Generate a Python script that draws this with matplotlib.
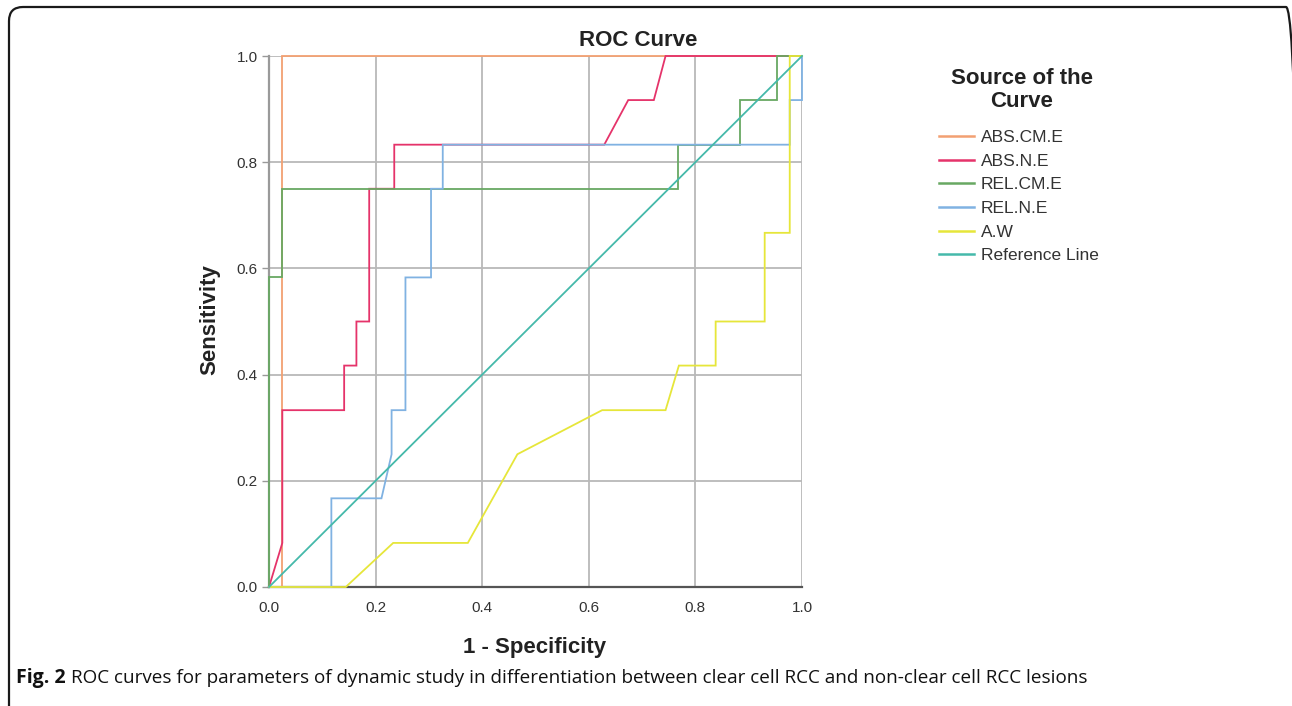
import matplotlib
matplotlib.use("Agg")
import matplotlib.pyplot as plt
from matplotlib.patches import FancyBboxPatch
from matplotlib.transforms import IdentityTransform

# ---------------- data ----------------
abs_cm_e_x = [0, 0.025, 0.025, 1.0]
abs_cm_e_y = [0, 0, 1.0, 1.0]

abs_n_e_x = [0, 0.025, 0.025, 0.141, 0.141, 0.164, 0.164, 0.188, 0.188, 0.235, 0.235,
             0.629, 0.674, 0.722, 0.744, 1.0]
abs_n_e_y = [0, 0.083, 0.333, 0.333, 0.417, 0.417, 0.5, 0.5, 0.75, 0.75, 0.833,
             0.833, 0.917, 0.917, 1.0, 1.0]

rel_cm_e_x = [0, 0, 0.025, 0.025, 0.767, 0.767, 0.884, 0.884, 0.954, 0.954, 1.0]
rel_cm_e_y = [0, 0.583, 0.583, 0.75, 0.75, 0.833, 0.833, 0.917, 0.917, 1.0, 1.0]

rel_n_e_x = [0, 0.117, 0.117, 0.211, 0.230, 0.230, 0.256, 0.256, 0.304, 0.304, 0.326,
             0.326, 0.977, 0.977, 1.0, 1.0]
rel_n_e_y = [0, 0, 0.167, 0.167, 0.25, 0.333, 0.333, 0.583, 0.583, 0.75, 0.75,
             0.833, 0.833, 0.917, 0.917, 1.0]

aw_x = [0, 0.144, 0.233, 0.373, 0.466, 0.625, 0.744, 0.769, 0.838, 0.838, 0.930,
        0.930, 0.977, 0.977, 1.0]
aw_y = [0, 0, 0.083, 0.083, 0.25, 0.333, 0.333, 0.417, 0.417, 0.5, 0.5,
        0.667, 0.667, 1.0, 1.0]

ref_x = [0, 1.0]
ref_y = [0, 1.0]

series_names = ["ABS.CM.E", "ABS.N.E", "REL.CM.E", "REL.N.E", "A.W", "Reference Line"]
series_colors = ["#f2a072", "#e5336a", "#68a862", "#80b2e2", "#e6e63a", "#45b9aa"]
ticks = [0.0, 0.2, 0.4, 0.6, 0.8, 1.0]
tick_labels = ["0.0", "0.2", "0.4", "0.6", "0.8", "1.0"]

# ---------------- figure ----------------
W, H = 1292, 706
fig = plt.figure(figsize=(W / 100, H / 100), dpi=100)
fig.patch.set_facecolor("white")
plt.rcParams["font.family"] = ["Liberation Sans", "DejaVu Sans"]

ax = fig.add_axes([269 / W, (H - 587) / H, (802 - 269) / W, (587 - 56) / H])
ax.set_xlim(0, 1)
ax.set_ylim(0, 1)

xs = [abs_cm_e_x, abs_n_e_x, rel_cm_e_x, rel_n_e_x, aw_x, ref_x]
ys = [abs_cm_e_y, abs_n_e_y, rel_cm_e_y, rel_n_e_y, aw_y, ref_y]
handles = []
for x, y, name, c in zip(xs, ys, series_names, series_colors):
    h, = ax.plot(x, y, color=c, lw=1.3, label=name, clip_on=False, zorder=3,
                 solid_joinstyle="miter")
    handles.append(h)

ax.set_xticks(ticks)
ax.set_yticks(ticks)
ax.set_xticklabels(tick_labels, fontsize=11, color="#333333")
ax.set_yticklabels(tick_labels, fontsize=11, color="#333333")
ax.tick_params(axis="y", length=5, width=1, color="#999999", pad=3)
ax.tick_params(axis="x", length=0, pad=10)
ax.grid(True, color="#b9b9b9", lw=1.3, zorder=1)
ax.set_axisbelow(True)
for s in ["top", "right"]:
    ax.spines[s].set_visible(False)
ax.spines["left"].set_color("#9a9a9a")
ax.spines["left"].set_linewidth(1.6)
ax.spines["bottom"].set_color("#555555")
ax.spines["bottom"].set_linewidth(1.6)

# titles and labels
fig.text(638 / W, 1 - 41 / H, "ROC Curve", ha="center", va="center",
         fontsize=16, fontweight="bold", color="#222222")
fig.text(535 / W, 1 - 648 / H, "1 - Specificity", ha="center", va="center",
         fontsize=16, fontweight="bold", color="#222222")
fig.text(210 / W, 1 - 320 / H, "Sensitivity", ha="center", va="center",
         rotation=90, fontsize=16, fontweight="bold", color="#222222")

# legend
fig.text(1022 / W, 1 - 90 / H, "Source of the\nCurve", ha="center", va="center",
         multialignment="center", linespacing=1.15,
         fontsize=16, fontweight="bold", color="#222222")
leg = fig.legend(handles=handles, labels=series_names, loc="upper left",
                 bbox_to_anchor=(939 / W, 1 - 130 / H), frameon=False,
                 fontsize=12.5,
                 handlelength=2.0, handletextpad=0.4, labelspacing=0.49,
                 borderpad=0, borderaxespad=0)
for t in leg.get_texts():
    t.set_color("#333333")
for lh in leg.legend_handles:
    lh.set_linewidth(1.8)

# caption
cap_y = 1 - 678 / H
t1 = fig.text(16 / W, cap_y, "Fig. 2", ha="left", va="center", fontsize=14,
              fontweight="bold", family=["Open Sans", "DejaVu Sans"], color="#111111")
fig.canvas.draw()
bb = t1.get_window_extent()
fig.text((bb.x1 + 5) / W, cap_y,
         "ROC curves for parameters of dynamic study in differentiation between clear cell RCC and non-clear cell RCC lesions",
         ha="left", va="center", fontsize=13.6, family=["Open Sans", "DejaVu Sans"],
         color="#111111")

# border (rounded, running off the bottom and right)
border = FancyBboxPatch((9, -40), 1300 - 9, (H - 7) + 40, boxstyle="round,pad=0,rounding_size=14",
                        transform=IdentityTransform(), fill=False, lw=1.6, ec="#1a1a1a",
                        clip_on=False)
fig.patches.append(border)

fig.savefig("out.png", dpi=100, facecolor="white")
